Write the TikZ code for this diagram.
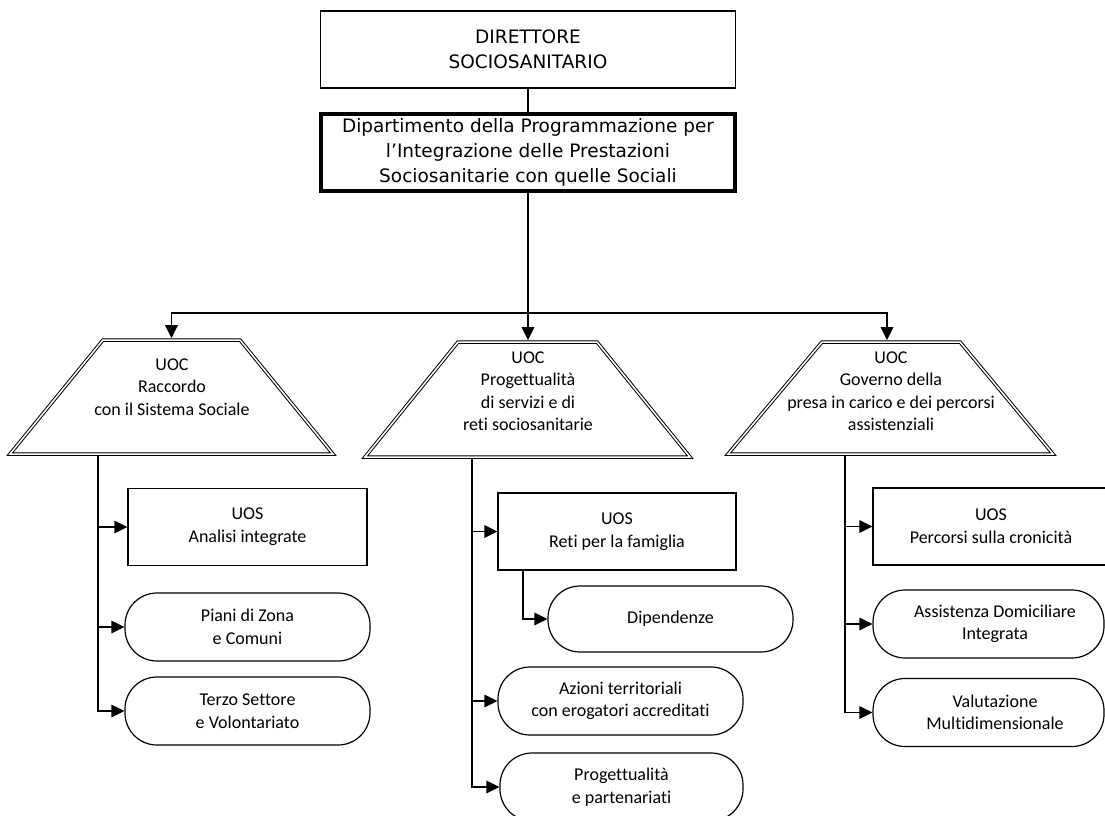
\documentclass[tikz,border=0pt]{standalone}
\usepackage{fontspec}
\setmainfont{Carlito}[Ligatures=CommonOff]
\newfontfamily\verd{DejaVu Sans}
\usetikzlibrary{arrows.meta}

\begin{document}
\begin{tikzpicture}[x=1pt,y=-1pt,
  conn/.style={line width=1.3pt},
  arr/.style={conn,-{Triangle[length=13pt,width=12.5pt]}},
  headbox/.style={draw, line width=1.2pt, minimum width=415pt, minimum height=77pt,
    inner sep=0pt, align=center, font=\verd\fontsize{18.5}{25}\selectfont},
  deptbox/.style={headbox, line width=4pt, minimum width=414pt},
  uocline/.style={draw, double, line width=1pt, double distance=1.5pt},
  lbl/.style={align=center, inner sep=0pt, font=\fontsize{18}{22.5}\selectfont},
  uosbox/.style={draw, line width=1.2pt, minimum height=77pt, inner sep=0pt,
    align=center, font=\fontsize{18}{23}\selectfont},
  oval/.style={draw, line width=1.2pt, rounded corners=32pt, minimum height=68pt,
    minimum width=245pt, inner sep=0pt, align=center, font=\fontsize{18}{22.5}\selectfont}
]
\useasboundingbox (0,0) rectangle (1105,816);
\clip (0,0) rectangle (1105,816);

% direction and department
\node[headbox] (dir) at (528,49.5) {DIRETTORE\\SOCIOSANITARIO};
\node[deptbox] (dept) at (528,152.5)
  {Dipartimento della Programmazione per\\l’Integrazione delle Prestazioni\\Sociosanitarie con quelle Sociali};

% UOC trapezia (double outline)
\draw[uocline] (10,454) -- (103,340) -- (240,340) -- (333,454) -- cycle;
\draw[uocline] (365,457) -- (458,342) -- (597,342) -- (690,457) -- cycle;
\draw[uocline] (728,454) -- (822,342) -- (960,342) -- (1053,454) -- cycle;
\coordinate (t1n) at (171.5,338.2);
\coordinate (t1s) at (98,455.8);
\coordinate (t2n) at (528,340.2);
\coordinate (t2s) at (472,458.8);
\coordinate (t3n) at (887,340.2);
\coordinate (t3s) at (845,455.8);
\node[lbl] (t1txt) at (172,387) {UOC\\Raccordo\\con il Sistema Sociale};
\node[lbl] (t2txt) at (528,391) {UOC\\Progettualità\\di servizi e di\\reti sociosanitarie};
\node[lbl] (t3txt) at (891,391) {UOC\\Governo della\\presa in carico e dei percorsi\\assistenziali};

% first column
\node[uosbox, minimum width=239pt] (uos1) at (247.5,527) {UOS\\Analisi integrate};
\node[oval] (piani) at (247.5,627) {Piani di Zona\\e Comuni};
\node[oval] (terzo) at (247.5,711) {Terzo Settore\\e Volontariato};

% second column
\node[uosbox, minimum width=238pt] (uos2) at (617,531.5) {UOS\\Reti per la famiglia};
\node[oval, minimum height=66pt] (dip) at (670.5,619) {Dipendenze};
\node[oval] (azioni) at (620.5,701) {Azioni territoriali\\con erogatori accreditati};
\node[oval, minimum width=243pt] (prog) at (621.5,787) {Progettualità\\e partenariati};

% third column
\node[uosbox, minimum width=236pt] (uos3) at (991,526.5) {UOS\\Percorsi sulla cronicità};
\node[oval, minimum width=231pt] (assist) at (988.5,624) {};
\node[lbl] (assisttxt) at (995,624) {Assistenza Domiciliare\\Integrata};
\node[oval, minimum width=231pt] (valut) at (988.5,712.5) {};
\node[lbl] (valuttxt) at (995,712.5) {Valutazione\\Multidimensionale};

% connectors
\draw[conn] (dir.south) -- (dept.north);
\coordinate (bus) at (528,313);
\draw[arr] (dept.south) -- (t2n);
\draw[arr] (bus) -| (t1n);
\draw[arr] (bus) -| (t3n);

\draw[arr] (t1s) |- (uos1.west);
\draw[arr] (t1s) |- (piani.west);
\draw[arr] (t1s) |- (terzo.west);

\draw[arr] (t2s) |- (uos2.west);
\draw[arr] (t2s) |- (azioni.west);
\draw[arr] (t2s) |- (prog.west);
\path (uos2.south) ++(-94,0) coordinate (s2);
\draw[arr] (s2) |- (dip.west);

\draw[arr] (t3s) |- (uos3.west);
\draw[arr] (t3s) |- (assist.west);
\draw[arr] (t3s) |- (valut.west);
\end{tikzpicture}
\end{document}
